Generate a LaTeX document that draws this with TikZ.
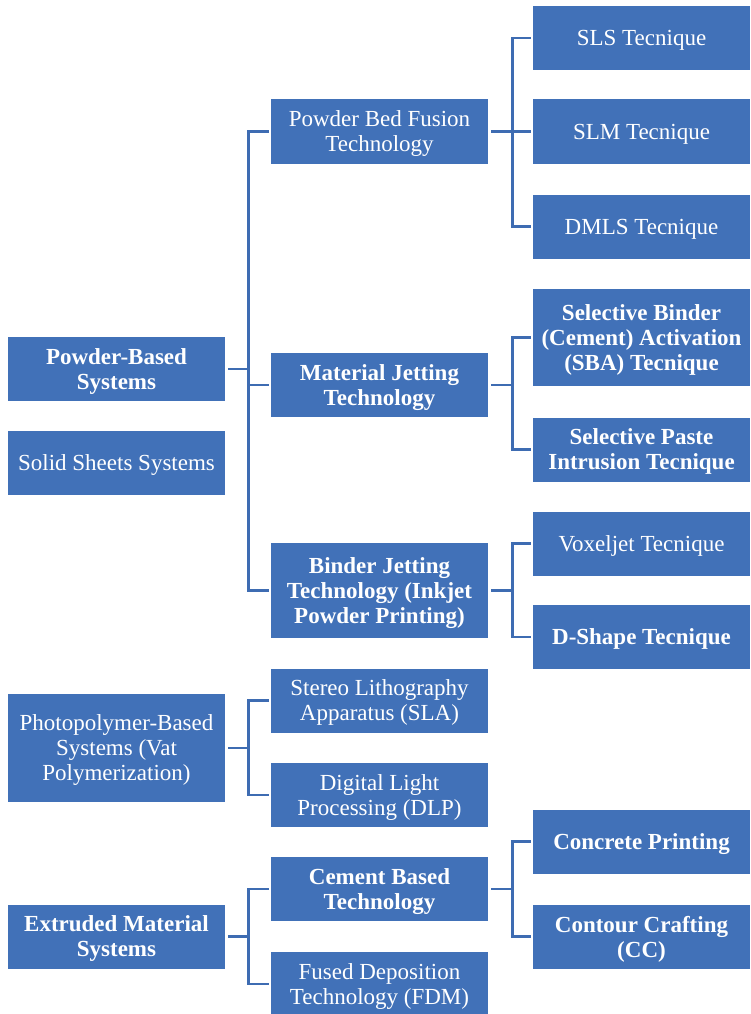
\documentclass[tikz,border=0pt]{standalone}
\usepackage{fontspec}
\setmainfont{Liberation Serif}
\usepackage{xcolor}
\definecolor{boxblue}{RGB}{65,113,184}
\definecolor{lineblue}{RGB}{62,108,178}

\begin{document}
\begin{tikzpicture}[x=1pt, y=-1pt,
    box/.style={fill=boxblue, text=white, inner sep=0pt, minimum width=217, minimum height=64,
        align=center, text depth=0pt, font=\fontsize{23}{25}\selectfont},
    bbox/.style={box, font=\fontsize{23}{25}\selectfont\bfseries},
    link/.style={draw=lineblue, line width=2.8}]
    \useasboundingbox (0,0) rectangle (750,1014);

    \node[bbox] (pb) at (116.5,369) {Powder-Based\\Systems};
    \node[box] (ss) at (116.5,463) {Solid Sheets Systems};
    \node[box, minimum height=108] (pp) at (116.5,748) {Photopolymer-Based\\Systems (Vat\\Polymerization)};
    \node[bbox] (em) at (116.5,936.5) {Extruded Material\\Systems};

    \node[box] (pbf) at (379.5,131.5) {Powder Bed Fusion\\Technology};
    \node[bbox] (mj) at (379.5,385) {Material Jetting\\Technology};
    \node[bbox, minimum height=95] (bj) at (379.5,590.5) {Binder Jetting\\Technology (Inkjet\\Powder Printing)};
    \node[box] (sla) at (379.5,700.5) {Stereo Lithography\\Apparatus (SLA)};
    \node[box] (dlp) at (379.5,795) {Digital Light\\Processing (DLP)};
    \node[bbox] (cb) at (379.5,889) {Cement Based\\Technology};
    \node[box] (fdm) at (379.5,984) {Fused Deposition\\Technology (FDM)};

    \node[box] (sls) at (641.5,38) {SLS Tecnique};
    \node[box] (slm) at (641.5,131.5) {SLM Tecnique};
    \node[box] (dmls) at (641.5,226.5) {DMLS Tecnique};
    \node[bbox, minimum height=97] (sba) at (641.5,337.5) {Selective Binder\\(Cement) Activation\\(SBA) Tecnique};
    \node[bbox] (spi) at (641.5,449.5) {Selective Paste\\Intrusion Tecnique};
    \node[box] (vox) at (641.5,543.5) {Voxeljet Tecnique};
    \node[bbox] (dsh) at (641.5,637) {D-Shape Tecnique};
    \node[bbox] (cp) at (641.5,841.5) {Concrete Printing};
    \node[bbox] (cc) at (641.5,936.5) {Contour Crafting\\(CC)};

    \foreach \a/\b in {pb/pbf, pb/mj, pb/bj, pp/sla, pp/dlp, em/cb, em/fdm}
        \draw[link] ([xshift=3]\a.east) -- ++(20,0) |- ([xshift=-2]\b.west);
    \foreach \a/\b in {pbf/sls, pbf/slm, pbf/dmls, mj/sba, mj/spi, bj/vox, bj/dsh, cb/cp, cb/cc}
        \draw[link] ([xshift=3]\a.east) -- ++(21,0) |- ([xshift=-2]\b.west);
\end{tikzpicture}
\end{document}
